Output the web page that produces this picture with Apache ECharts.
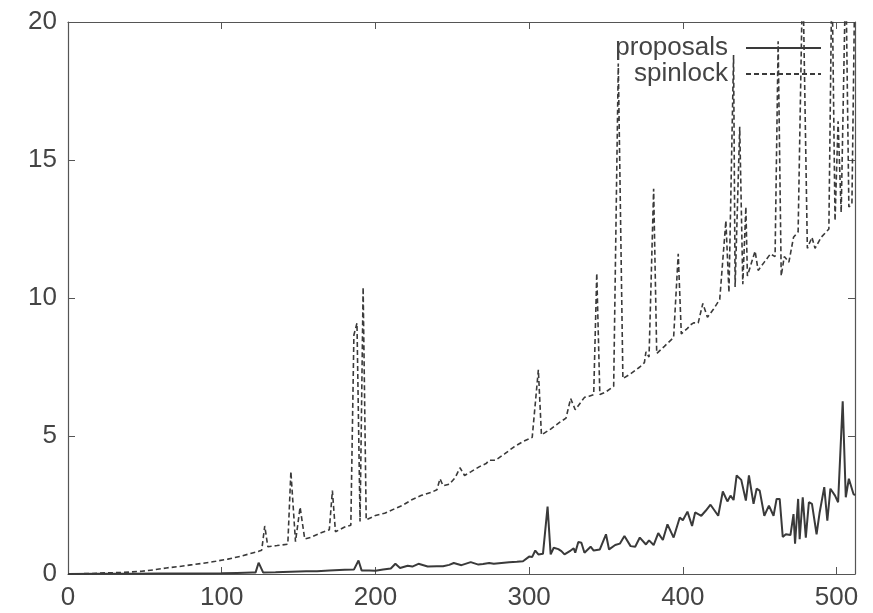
<!DOCTYPE html>
<html>
<head>
<meta charset="utf-8">
<script src="https://cdn.jsdelivr.net/npm/echarts@6/dist/echarts.min.js"></script>
<style>
  html, body { margin: 0; padding: 0; background: #fff; }
  #chart { width: 873px; height: 613px; }
</style>
</head>
<body>
<div id="chart"></div>
<script>
// x positions and values
const spinX = [0, 8, 16, 24, 32, 40, 48, 56, 64, 72, 80, 88, 96, 104, 112, 120, 124, 126, 128, 130, 136, 143, 145, 148, 151, 154, 158, 164, 170, 172, 174, 180, 184, 186, 188, 190, 192, 194, 200, 206, 212, 218, 224, 230, 236, 240, 242, 244, 248, 252, 255, 258, 262, 268, 272, 274, 278, 284, 290, 296, 302, 306, 308, 314, 320, 324, 327, 330, 334, 336, 339, 342, 344, 346, 350, 355, 358, 361, 366, 372, 375, 376, 378, 381, 383, 388, 394, 397, 399, 403, 405, 407, 410, 413, 416, 420, 424, 428, 430, 433, 434, 437, 439, 441, 442, 447, 449, 453, 457, 460, 462, 464, 466, 469, 472, 475, 478, 481, 484, 486, 490, 495, 497, 499, 501, 503, 506, 508, 510, 512];
const spinY = [0.0, 0.01, 0.02, 0.04, 0.05, 0.07, 0.1, 0.15, 0.22, 0.27, 0.33, 0.39, 0.46, 0.54, 0.64, 0.76, 0.82, 0.86, 1.74, 0.99, 1.03, 1.08, 3.71, 1.17, 2.42, 1.27, 1.33, 1.48, 1.6, 3.02, 1.53, 1.7, 1.77, 8.66, 9.09, 1.9, 10.39, 1.96, 2.12, 2.2, 2.35, 2.5, 2.7, 2.85, 2.95, 3.05, 3.45, 3.2, 3.25, 3.5, 3.85, 3.57, 3.7, 3.9, 4.0, 4.12, 4.12, 4.35, 4.6, 4.8, 4.95, 7.4, 5.04, 5.25, 5.5, 5.65, 6.36, 5.95, 6.25, 6.4, 6.44, 6.5, 10.9, 6.5, 6.6, 6.8, 18.5, 7.08, 7.25, 7.5, 7.66, 8.05, 7.86, 13.96, 7.99, 8.25, 8.57, 11.6, 8.7, 8.9, 9.03, 9.1, 9.1, 9.8, 9.3, 9.6, 9.95, 12.8, 10.2, 18.8, 10.4, 16.2, 10.5, 13.3, 10.8, 11.7, 11.0, 11.3, 11.6, 11.5, 19.3, 10.8, 11.5, 11.3, 12.2, 12.4, 22, 11.8, 12.2, 11.8, 12.2, 12.5, 22, 12.8, 16.4, 13.1, 22, 13.3, 13.4, 22];

const propX = [0, 20, 40, 60, 80, 100, 110, 120, 122, 124, 127, 135, 145, 155, 162, 170, 180, 186, 189, 191, 196, 200, 205, 210, 213, 216, 221, 224, 228, 234, 240, 244, 248, 251, 256, 262, 267, 270, 274, 277, 282, 287, 292, 296, 300, 302, 304, 306, 309, 312, 314, 316, 319, 321, 323, 327, 329, 330, 332, 334, 336, 340, 342, 346, 350, 352, 356, 359, 362, 366, 369, 372, 376, 378, 381, 384, 387, 390, 394, 398, 400, 403, 406, 408, 412, 415, 418, 423, 426, 429, 431, 433, 435, 438, 441, 443, 446, 448, 450, 453, 456, 459, 461, 463, 465, 467, 470, 472, 473, 475, 476, 478, 480, 482, 484, 487, 489, 492, 494, 496, 499, 501, 504, 506, 508, 511, 512];
const propY = [0.0, 0.01, 0.01, 0.02, 0.02, 0.03, 0.04, 0.05, 0.05, 0.41, 0.05, 0.06, 0.08, 0.1, 0.1, 0.13, 0.15, 0.16, 0.49, 0.13, 0.13, 0.12, 0.16, 0.2, 0.37, 0.22, 0.3, 0.27, 0.37, 0.27, 0.28, 0.28, 0.33, 0.4, 0.32, 0.43, 0.34, 0.36, 0.4, 0.37, 0.4, 0.43, 0.44, 0.46, 0.63, 0.62, 0.85, 0.71, 0.73, 2.44, 0.71, 0.95, 0.9, 0.83, 0.71, 0.85, 0.93, 0.77, 1.16, 1.13, 0.77, 0.99, 0.85, 0.89, 1.44, 0.89, 1.05, 1.1, 1.38, 1.01, 0.99, 1.32, 1.07, 1.22, 1.05, 1.48, 1.23, 1.8, 1.32, 2.05, 1.95, 2.26, 1.74, 2.23, 2.11, 2.3, 2.51, 2.11, 2.99, 2.63, 2.84, 2.68, 3.57, 3.41, 2.66, 3.57, 2.54, 3.09, 3.02, 2.11, 2.48, 2.11, 2.72, 2.72, 1.34, 1.44, 1.41, 2.17, 1.1, 2.72, 1.26, 2.78, 1.32, 2.6, 2.54, 1.44, 2.23, 3.15, 1.93, 3.09, 2.84, 2.6, 6.26, 2.78, 3.45, 2.9, 2.85];

const xTicks = [0, 100, 200, 300, 400, 500];
const yTicks = [0, 5, 10, 15, 20];

const ink = '#3a3a3a';
const labelInk = '#444';
const font = '"Liberation Sans", Arial, sans-serif';

function pairs(xs, ys) {
    return xs.map((x, i) => [x, ys[i]]);
}

const frame = { show: true, onZero: false, lineStyle: { color: '#555', width: 1.2 } };
const tick = { show: true, inside: true, length: 7, lineStyle: { color: '#555', width: 1 } };

const chart = echarts.init(document.getElementById('chart'));
chart.setOption({
    animation: false,
    backgroundColor: '#fff',
    grid: { left: 68, right: 18, top: 22, bottom: 39 },
    legend: {
        right: 46,
        top: 30,
        orient: 'vertical',
        align: 'right',
        itemWidth: 75,
        itemHeight: 14,
        itemGap: 0,
        itemStyle: { opacity: 0 },
        textStyle: { fontFamily: font, fontSize: 26, color: labelInk, lineHeight: 26, padding: [0, 13, 0, 0] },
        data: ['proposals', 'spinlock']
    },
    xAxis: [{
        type: 'value', min: 0, max: 512, interval: 100,
        axisLine: frame, axisTick: tick, splitLine: { show: false },
        axisLabel: {
            margin: 11, fontFamily: font, fontSize: 26, color: labelInk,
            formatter: v => xTicks.includes(v) ? String(v) : ''
        }
    }, {
        type: 'value', min: 0, max: 512, interval: 100, position: 'top',
        axisLine: frame, axisTick: tick, splitLine: { show: false }, axisLabel: { show: false }
    }],
    yAxis: [{
        type: 'value', min: 0, max: 20, interval: 5,
        axisLine: frame, axisTick: tick, splitLine: { show: false },
        axisLabel: {
            margin: 11, fontFamily: font, fontSize: 26, color: labelInk,
            formatter: v => yTicks.includes(v) ? String(v) : ''
        }
    }, {
        type: 'value', min: 0, max: 20, interval: 5, position: 'right',
        axisLine: frame, axisTick: tick, splitLine: { show: false }, axisLabel: { show: false }
    }],
    series: [{
        name: 'proposals',
        type: 'line',
        symbol: 'none',
        clip: true,
        data: pairs(propX, propY),
        lineStyle: { color: ink, width: 2 },
        itemStyle: { color: ink }
    }, {
        name: 'spinlock',
        type: 'line',
        symbol: 'none',
        clip: true,
        data: pairs(spinX, spinY),
        lineStyle: { color: ink, width: 1.6, type: [5, 3] },
        itemStyle: { color: ink }
    }]
});
</script>
</body>
</html>
